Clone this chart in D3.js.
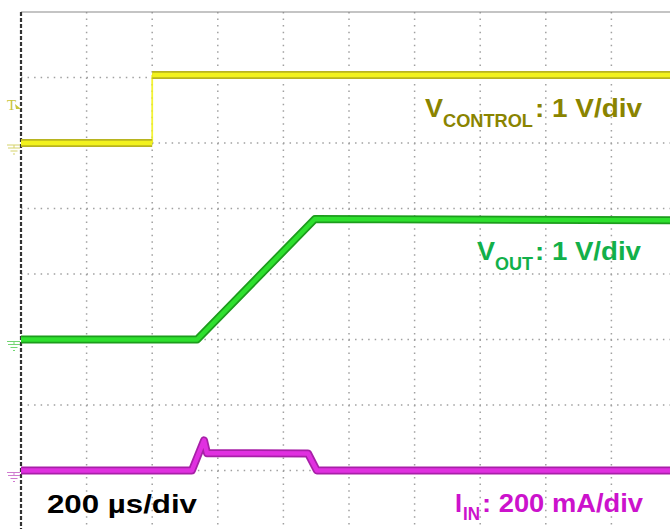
<!DOCTYPE html>
<html><head><meta charset="utf-8">
<script src="https://cdn.jsdelivr.net/npm/d3@7"></script>
<style>html,body{margin:0;padding:0;background:#fff;}svg{display:block;}</style>
</head><body>
<svg id="c" width="670" height="529"></svg>
<script>
// Data (time in µs, values in trace units)
const timeDivUs = 200;           // 200 µs/div
const xDivisions = [0,1,2,3,4,5,6,7,8,9,10];
const yDivisions = [0,1,2,3,4,5,6,7,8];
// V_CONTROL (V), 1 V/div, ground at division 6
const ctrlTime = [0, 400, 400, 2000];
const ctrlVolt = [0, 0, 1.04, 1.04];
// V_OUT (V), 1 V/div, ground at division 3
const outTime = [0, 537, 896, 2000];
const outVolt = [0, 0, 1.84, 1.82];
// I_IN (mA), 200 mA/div, ground at division 1
const inTime = [0, 521, 558, 567, 875, 902, 2000];
const inCurr = [0, 0, 92, 53, 52, 0, 0];

const svg = d3.select("#c");
const x = d3.scaleLinear().domain([0, 2000]).range([21, 677]);
const y = d3.scaleLinear().domain([0, 8]).range([536, 12]);

// grid
const g = svg.append("g");
g.selectAll("line.v").data(xDivisions.slice(1, 10)).join("line")
  .attr("x1", d => x(d*timeDivUs)).attr("x2", d => x(d*timeDivUs))
  .attr("y1", y(8)).attr("y2", 529)
  .attr("stroke", "#a0a0a0").attr("stroke-width", 1.5).attr("stroke-dasharray", "1.5,5.05");
g.selectAll("line.h").data(yDivisions.slice(1, 8)).join("line")
  .attr("x1", x(0)).attr("x2", 670)
  .attr("y1", d => y(d)).attr("y2", d => y(d))
  .attr("stroke", "#a0a0a0").attr("stroke-width", 1.5).attr("stroke-dasharray", "1.5,5.05");
// top border
g.append("line").attr("x1", x(0)).attr("x2", 670).attr("y1", y(8)).attr("y2", y(8))
  .attr("stroke", "#8a8a8a").attr("stroke-width", 1.2);
// left border (dashed dark)
g.append("line").attr("x1", x(0)).attr("x2", x(0)).attr("y1", y(8)).attr("y2", 529)
  .attr("stroke", "#333").attr("stroke-width", 2.2).attr("stroke-dasharray", "4,2");

function trace(times, vals, offset, scale, dark, bright) {
  const pts = times.map((t, i) => [t, offset + vals[i] / scale]);
  const line = d3.line().x(d => x(d[0])).y(d => y(d[1]));
  // split at vertical steps: those are drawn thin
  const segs = [];
  let cur = [pts[0]];
  for (let i = 1; i < pts.length; i++) {
    if (pts[i][0] === pts[i-1][0]) {
      segs.push(cur);
      svg.append("path").attr("d", line([pts[i-1], pts[i]])).attr("fill", "none")
        .attr("stroke", bright).attr("stroke-width", 1.8).attr("opacity", 0.9);
      cur = [pts[i]];
    } else cur.push(pts[i]);
  }
  segs.push(cur);
  segs.forEach(s => {
    svg.append("path").attr("d", line(s)).attr("fill", "none")
      .attr("stroke", dark).attr("stroke-width", 8).attr("stroke-linejoin", "round");
    svg.append("path").attr("d", line(s)).attr("fill", "none")
      .attr("stroke", bright).attr("stroke-width", 4.5).attr("stroke-linejoin", "round");
  });
}
trace(ctrlTime, ctrlVolt, 6, 1, "#b8b420", "#f2f21e");
trace(outTime, outVolt, 3, 1, "#1d9c1d", "#2ee02e");
trace(inTime, inCurr, 1, 200, "#a820a8", "#e030e0");

// ground markers
function ground(cy, color) {
  const m = svg.append("g").attr("stroke", color).attr("stroke-width", 1).attr("fill", "none").attr("opacity", 0.75);
  m.append("line").attr("x1", 7).attr("x2", 20).attr("y1", cy).attr("y2", cy);
  m.append("line").attr("x1", 14).attr("x2", 14).attr("y1", cy).attr("y2", cy + 3);
  m.append("line").attr("x1", 8).attr("x2", 20).attr("y1", cy + 3).attr("y2", cy + 3);
  m.append("line").attr("x1", 10.5).attr("x2", 17.5).attr("y1", cy + 6).attr("y2", cy + 6);
  m.append("line").attr("x1", 13).attr("x2", 15).attr("y1", cy + 9).attr("y2", cy + 9);
}
ground(y(6) + 2, "#c8c43a");
ground(y(3) + 2, "#46c846");
ground(y(1) + 2, "#c050c0");
// trigger marker
svg.append("text").attr("x", 7).attr("y", 110).attr("font-family", "Liberation Serif")
  .attr("font-size", 15).attr("fill", "#c8c43a").text("T");
svg.append("path").attr("d", "M15,104 L21,109 L16,109 Z").attr("fill", "#c8c43a");

// labels
function lbl(txt, x0, yb, size, len, color) {
  svg.append("text").attr("x", x0).attr("y", yb).attr("font-family", "Liberation Sans, Arial, sans-serif")
    .attr("font-weight", "bold").attr("font-size", size).attr("fill", color)
    .attr("textLength", len).attr("lengthAdjust", "spacingAndGlyphs").text(txt);
}
const olive = "#8a8400", green = "#12b04a", mag = "#cc12cc";
lbl("V", 425, 117, 25, 18, olive);
lbl("CONTROL", 443, 127, 18, 90, olive);
lbl(": 1 V/div", 535, 117, 25, 107, olive);
lbl("V", 477, 260, 25, 18, green);
lbl("OUT", 495, 270, 18, 38, green);
lbl(": 1 V/div", 535, 260, 25, 106, green);
lbl("I", 455, 512, 25, 7, mag);
lbl("IN", 463, 520, 18, 17, mag);
lbl(": 200 mA/div", 482, 512, 25, 161, mag);
lbl("200 µs/div", 47, 513, 25, 150, "#000");
</script>
</body></html>
